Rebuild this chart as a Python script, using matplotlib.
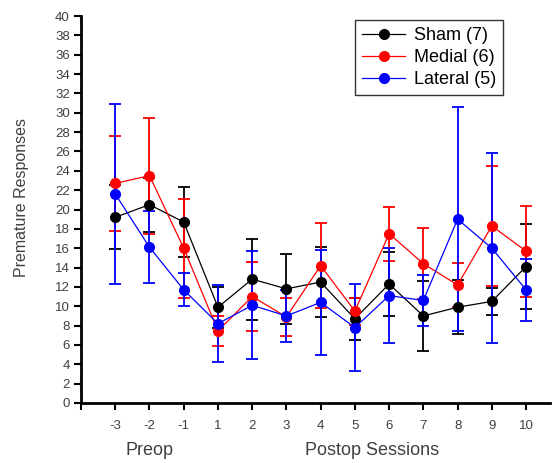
import matplotlib.pyplot as plt

plt.rcParams['font.family'] = ['Liberation Sans', 'DejaVu Sans']

# session labels (preop -3..-1, postop 1..10)
sessions = ['-3', '-2', '-1', '1', '2', '3', '4', '5', '6', '7', '8', '9', '10']

sham_mean = [19.2, 20.5, 18.7, 9.9, 12.8, 11.8, 12.5, 8.7, 12.3, 9.0, 9.9, 10.5, 14.1]
sham_err = [3.3, 2.8, 3.6, 2.1, 4.2, 3.6, 3.6, 2.2, 3.3, 3.6, 2.8, 1.4, 4.4]

medial_mean = [22.7, 23.5, 16.0, 7.45, 11.0, 8.9, 14.2, 9.5, 17.5, 14.4, 12.2, 18.3, 15.7]
medial_err = [4.9, 6.0, 5.1, 1.55, 3.6, 1.95, 4.4, 1.4, 2.8, 3.7, 2.3, 6.2, 4.7]

lateral_mean = [21.6, 16.1, 11.7, 8.2, 10.1, 9.0, 10.4, 7.8, 11.1, 10.6, 19.0, 16.0, 11.7]
lateral_err = [9.3, 3.7, 1.7, 4.0, 5.6, 2.7, 5.45, 4.45, 4.9, 2.6, 11.6, 9.8, 3.2]

groups = [
    ('Sham (7)', sham_mean, sham_err, 'black'),
    ('Medial (6)', medial_mean, medial_err, 'red'),
    ('Lateral (5)', lateral_mean, lateral_err, 'blue'),
]

fig = plt.figure(figsize=(5.55, 4.63), dpi=100)
ax = fig.add_axes([0.146, 0.1296, 0.845, 0.8358])

x = list(range(len(sessions)))
handles = []
labels = []
for label, m, e, c in groups:
    eb = ax.errorbar(x, m, yerr=e, color=c, ecolor=c, elinewidth=1.3, capsize=4,
                     capthick=1.3, lw=0.9, marker='o', ms=7)
    handles.append(eb[0])
    labels.append(label)

ax.set_ylim(0, 40)
ax.set_xlim(-1, 12.7)
ax.set_yticks(range(0, 41, 2))
ax.set_xticks([-1] + x)
ax.set_xticklabels([''] + sessions)
ax.tick_params(direction='out', length=5, width=1.5, labelsize=9.5,
               labelcolor='#404040', pad=3)
ax.tick_params(axis='x', pad=7)
for s in ['top', 'right']:
    ax.spines[s].set_visible(False)
for s in ['left', 'bottom']:
    ax.spines[s].set_linewidth(2)

ax.set_ylabel('Premature Responses', fontsize=11.5, color='#404040')
ax.yaxis.set_label_coords(-0.11, 0.532)
ax.text(1, -0.124, 'Preop', transform=ax.get_xaxis_transform(),
        ha='center', va='center', fontsize=13, color='#404040')
ax.text(7.5, -0.124, 'Postop Sessions', transform=ax.get_xaxis_transform(),
        ha='center', va='center', fontsize=13, color='#404040')

leg = ax.legend(handles, labels, loc='upper left', bbox_to_anchor=(0.584, 0.99),
                borderaxespad=0, fontsize=13, fancybox=False, framealpha=1,
                edgecolor='#333333', handlelength=2.4, borderpad=0.4,
                labelspacing=0.28, handletextpad=0.45)
leg.get_frame().set_linewidth(1)

fig.savefig('out.png', dpi=100)
